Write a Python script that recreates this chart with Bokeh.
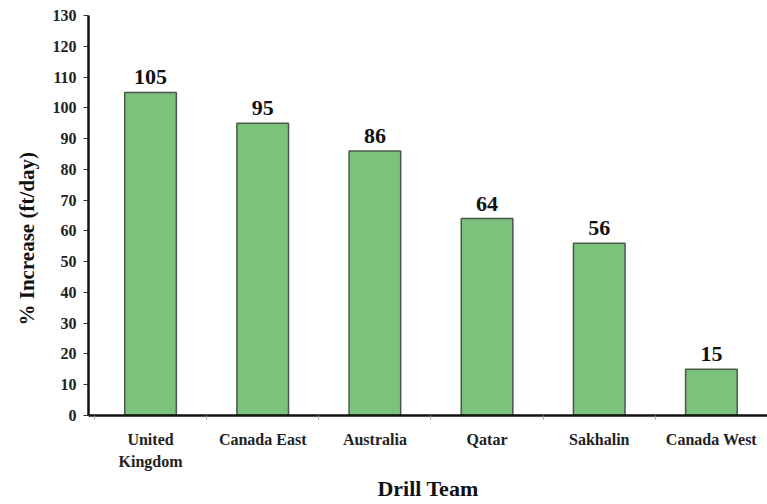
from bokeh.plotting import figure
from bokeh.models import FixedTicker, Range1d, ColumnDataSource, Title
from bokeh.embed import file_html
from bokeh.resources import INLINE

teams = ["United\nKingdom", "Canada East", "Australia", "Qatar", "Sakhalin", "Canada West"]
increase = [105, 95, 86, 64, 56, 15]
y_ticks = list(range(0, 131, 10))

FONT = "Liberation Serif"

centers = [i + 0.5 for i in range(len(teams))]
bounds = [i for i in range(len(teams) + 1)]

src = ColumnDataSource(dict(x=centers, top=increase, label=[str(v) for v in increase]))

p = figure(width=767, height=504, output_backend="svg", toolbar_location=None,
           x_range=Range1d(-0.053, 6.0), y_range=Range1d(0, 130))
p.min_border_left = 88
p.min_border_right = 0
p.min_border_top = 15
p.min_border_bottom = 89
p.outline_line_color = None
p.background_fill_color = "white"
p.border_fill_color = "white"
p.grid.visible = False

p.vbar(x="x", top="top", bottom=0, width=0.46, source=src,
       fill_color="#7dc27c", line_color="#46584a", line_width=1.5)

p.text(x="x", y="top", text="label", source=src, y_offset=-15,
       text_align="center", text_baseline="alphabetic",
       text_font=FONT, text_font_style="bold", text_font_size="22px", text_color="#111111")

# x axis: labels at bar centres, short ticks between teams
xa = p.xaxis[0]
xa.ticker = FixedTicker(ticks=centers, minor_ticks=bounds)
xa.major_label_overrides = {c: t for c, t in zip(centers, teams)}
xa.major_tick_out = 0
xa.major_tick_in = 0
xa.minor_tick_out = 4
xa.minor_tick_in = 0
xa.minor_tick_line_color = "#999999"
xa.axis_line_width = 2.5
xa.axis_line_color = "#111111"
xa.major_label_text_font = FONT
xa.major_label_text_font_style = "bold"
xa.major_label_text_font_size = "16px"
xa.major_label_text_line_height = 1.3
xa.major_label_text_color = "#222222"
xa.major_label_standoff = 11
xa.axis_label = "Drill Team"
xa.axis_label_text_font = FONT
xa.axis_label_text_font_style = "bold"
xa.axis_label_text_font_size = "22px"
xa.axis_label_text_line_height = 1.0
xa.axis_label_text_color = "#111111"
xa.axis_label_standoff = 3

ya = p.yaxis[0]
ya.ticker = FixedTicker(ticks=y_ticks)
ya.minor_tick_line_color = None
ya.major_tick_out = 5
ya.major_tick_in = 0
ya.major_tick_line_color = "#333333"
ya.axis_line_width = 2.5
ya.axis_line_color = "#111111"
ya.major_label_text_font = FONT
ya.major_label_text_font_style = "bold"
ya.major_label_text_font_size = "16px"
ya.major_label_text_color = "#222222"
ya.major_label_standoff = 7

# y title starts 90 px above the x axis
p.add_layout(Title(text="% Increase (ft/day)", align="left", offset=90, standoff=22,
                   text_font=FONT, text_font_style="bold", text_font_size="21px",
                   text_color="#111111"), "left")

open("out.html", "w").write(file_html(p, INLINE))
